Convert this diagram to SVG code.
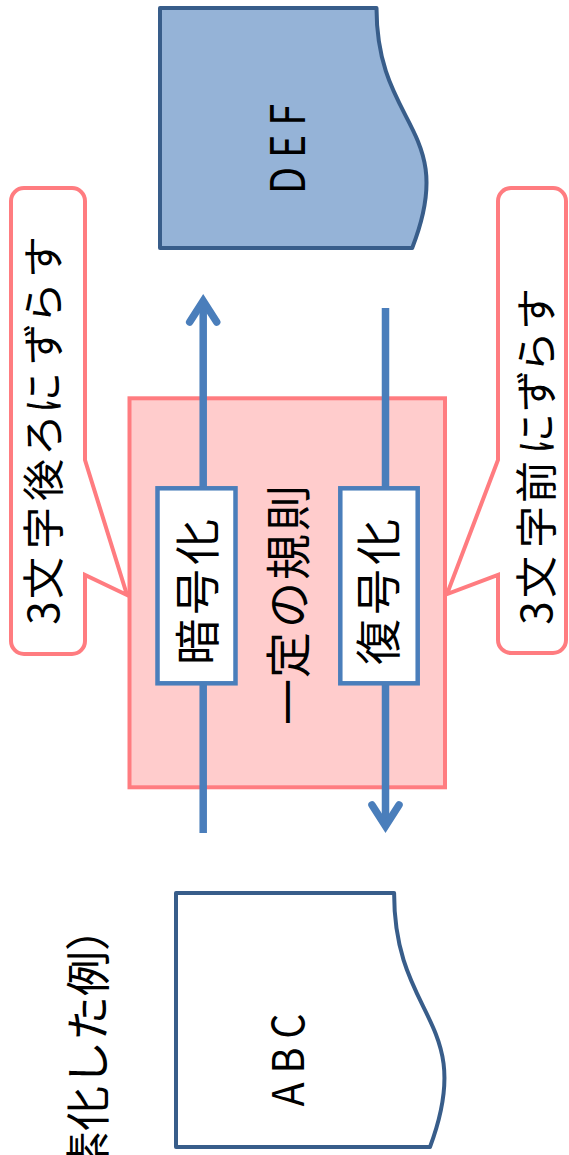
<svg xmlns="http://www.w3.org/2000/svg" width="569" height="1155" viewBox="0 0 569 1155">
<defs>
<style>
.t{font-family:"Noto Sans CJK JP","Noto Sans",sans-serif;fill:#000}
.doc{stroke:#385D8A;stroke-width:4;stroke-linejoin:round}
.callout{fill:#fff;stroke:#FF7C80;stroke-width:4;stroke-linejoin:miter}
.rule{fill:#FFCCCC;stroke:#FF7C80;stroke-width:4}
.proc{fill:#fff;stroke:#4A7EBB;stroke-width:4.5}
.flow{fill:none;stroke:#4A7EBB;stroke-width:7.5}
</style>
<marker id="arr" markerUnits="userSpaceOnUse" viewBox="-30 -20 40 40" markerWidth="40" markerHeight="40" refX="0" refY="0" orient="auto" overflow="visible">
<path d="M-21,-13.5 L0,0 L-21,13.5" fill="none" stroke="#4A7EBB" stroke-width="7.5" stroke-linecap="round" stroke-linejoin="miter"/>
</marker>
</defs>
<rect width="569" height="1155" fill="#fff"/>

<g id="caption">
<text class="t" font-size="45" text-anchor="end" transform="translate(88,906) rotate(-90)" x="0" y="17">素化した例）</text>
</g>

<g id="doc-def">
<path class="doc" fill="#95B3D7" d="M160,8 L376.5,8 C376.5,128 459,128 412.2,248 L160,248 Z"/>
<text class="t" font-size="48" text-anchor="middle" transform="translate(287.5,149) rotate(-90)" x="0" y="17.5" textLength="90" lengthAdjust="spacingAndGlyphs">D E F</text>
</g>

<g id="doc-abc">
<path class="doc" fill="#fff" d="M176,893 L394.1,893 C394.1,1020 477.2,1020 430,1147 L176,1147 Z"/>
<text class="t" font-size="44" text-anchor="middle" transform="translate(287.5,1060) rotate(-90)" x="0" y="16" textLength="93" lengthAdjust="spacingAndGlyphs">A B C</text>
</g>

<g id="callout-left">
<path class="callout" d="M24,188 L72,188 A13,13 0 0 1 85,201 L85,460 L127,595 L85,575 L85,641 A13,13 0 0 1 72,654 L24,654 A13,13 0 0 1 11,641 L11,201 A13,13 0 0 1 24,188 Z"/>
<text class="t" font-size="42" text-anchor="middle" transform="translate(42.5,435) rotate(-90)" x="-178 -143 -93 -45 0 42 91 132 178" y="16">3文字後ろにずらす</text>
</g>

<g id="callout-right">
<path class="callout" d="M511,188 L553,188 A13,13 0 0 1 566,201 L566,640 A13,13 0 0 1 553,653 L511,653 A13,13 0 0 1 498,640 L498,575 L447,594 L498,460 L498,201 A13,13 0 0 1 511,188 Z"/>
<text class="t" font-size="42" text-anchor="middle" transform="translate(536,460) rotate(-90)" x="-153 -117 -67 -22 26 69 108 151" y="16">3文字前にずらす</text>
</g>

<g id="rule">
<rect class="rule" x="129.5" y="398.3" width="315.5" height="389"/>
<text class="t" font-size="46" text-anchor="middle" transform="translate(287,605) rotate(-90)" x="-97 -50 0 48 97" y="17.5">一定の規則</text>
</g>

<g id="connectors">
<path class="flow" d="M203.2,833 L203.2,301" marker-end="url(#arr)"/>
<path class="flow" d="M385.5,308 L385.5,826" marker-end="url(#arr)"/>
</g>

<g id="encrypt">
<rect class="proc" x="157.5" y="488.3" width="78" height="195"/>
<text class="t" font-size="46" text-anchor="middle" transform="translate(196,592) rotate(-90)" x="-50 0 50" y="17.5">暗号化</text>
</g>

<g id="decrypt">
<rect class="proc" x="340.3" y="488.3" width="77.4" height="195"/>
<text class="t" font-size="46" text-anchor="middle" transform="translate(377,592) rotate(-90)" x="-50 0 50" y="17.5">復号化</text>
</g>
</svg>
